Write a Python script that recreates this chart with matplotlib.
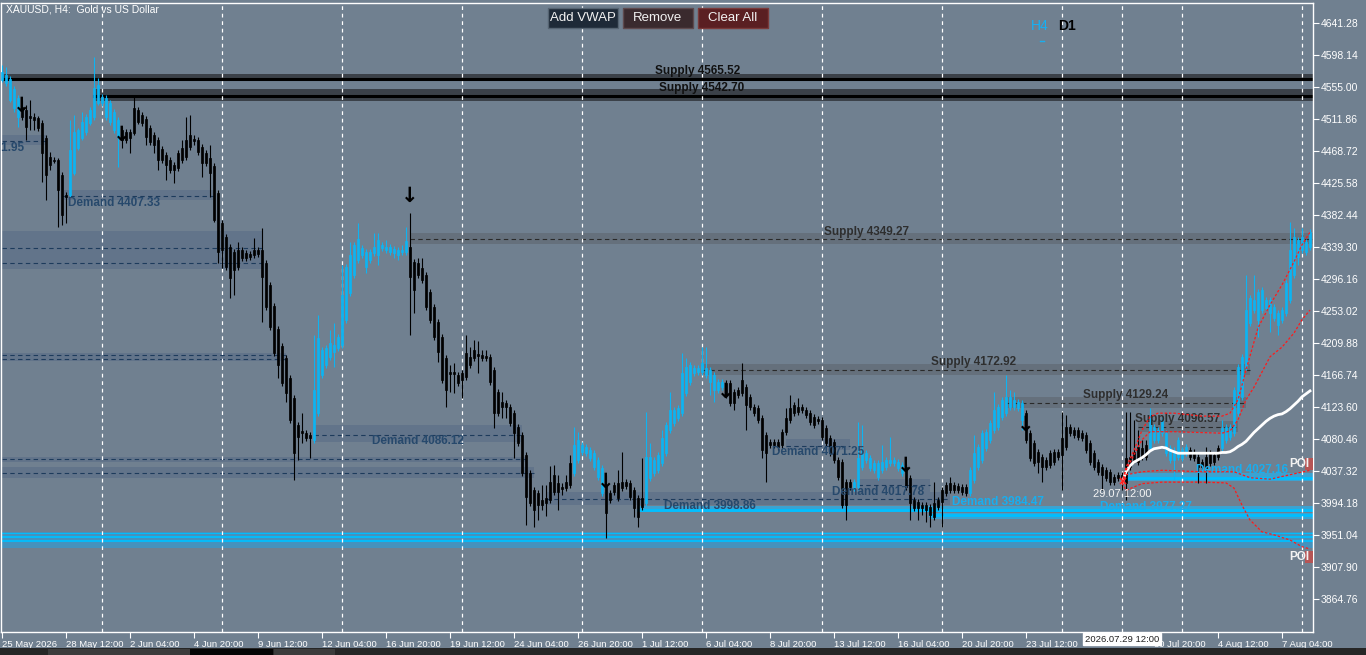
import matplotlib
matplotlib.use("Agg")
import matplotlib.pyplot as plt
from matplotlib.patches import Rectangle

plt.rcParams['font.family'] = ['Liberation Sans', 'DejaVu Sans']

# XAUUSD H4, 25 May 2026 20:00 -> 10 Aug 2026 04:00 (bar index 0..327)
opens = [
    4564, 4560, 4537, 4526, 4514, 4528, 4524, 4516, 4514, 4513,
    4506, 4486, 4460, 4456, 4456, 4436, 4409, 4409, 4439, 4472,
    4486, 4494, 4506, 4514, 4533, 4533, 4514, 4507, 4497, 4487,
    4497, 4494, 4494, 4526, 4524, 4517, 4511, 4499, 4490, 4483,
    4471, 4463, 4456, 4450, 4466, 4472, 4483, 4490, 4485, 4483,
    4474, 4466, 4459, 4448, 4412, 4371, 4352, 4339, 4332, 4335,
    4335, 4331, 4330, 4335, 4335, 4335, 4317, 4288, 4259, 4228,
    4205, 4189, 4162, 4135, 4099, 4091, 4088, 4086, 4079, 4115,
    4166, 4180, 4191, 4197, 4203, 4207, 4241, 4277, 4301, 4321,
    4328, 4312, 4321, 4331, 4328, 4338, 4335, 4332, 4331, 4328,
    4332, 4332, 4339, 4319, 4317, 4311, 4301, 4278, 4258, 4238,
    4218, 4189, 4170, 4170, 4166, 4169, 4196, 4191, 4200, 4195,
    4193, 4192, 4191, 4173, 4144, 4130, 4129, 4123, 4115, 4096,
    4086, 4059, 4034, 4011, 4007, 3998, 4001, 4022, 4032, 4021,
    4015, 4022, 4048, 4034, 4052, 4063, 4061, 4055, 4042, 4029,
    4007, 4018, 4007, 4018, 4021, 4022, 4022, 4021, 4011, 4001,
    4001, 3994, 4028, 4034, 4038, 4048, 4061, 4092, 4102, 4108,
    4115, 4142, 4157, 4169, 4170, 4170, 4166, 4157, 4146, 4146,
    4150, 4156, 4156, 4144, 4146, 4160, 4150, 4137, 4123, 4122,
    4108, 4086, 4076, 4076, 4076, 4090, 4108, 4122, 4126, 4123,
    4123, 4119, 4115, 4110, 4107, 4106, 4095, 4081, 4076, 4052,
    4049, 4022, 4022, 4014, 4015, 4042, 4052, 4041, 4038, 4029,
    4038, 4042, 4048, 4048, 4041, 4034, 4042, 4028, 3998, 3995,
    3991, 3991, 3988, 3994, 3998, 4011, 4018, 4021, 4018, 4017,
    4015, 4015, 4007, 4025, 4042, 4052, 4068, 4079, 4092, 4096,
    4110, 4115, 4123, 4123, 4122, 4106, 4115, 4088, 4075, 4063,
    4056, 4052, 4061, 4063, 4063, 4081, 4096, 4096, 4092, 4092,
    4088, 4086, 4075, 4061, 4049, 4042, 4038, 4036, 4029, 4032,
    4032, 4055, 4056, 4063, 4069, 4068, 4072, 4068, 4079, 4079,
    4088, 4061, 4052, 4052, 4056, 4055, 4061, 4065, 4063, 4056,
    4049, 4056, 4061, 4059, 4068, 4068, 4079, 4083, 4088, 4115,
    4137, 4177, 4236, 4254, 4241, 4254, 4257, 4250, 4243, 4234,
    4241, 4250, 4267, 4301, 4325, 4335, 4332, 4339,
]
highs = [
    4584, 4582, 4569, 4556, 4544, 4537, 4530, 4537, 4520, 4516,
    4510, 4490, 4467, 4460, 4459, 4440, 4413, 4510, 4517, 4499,
    4521, 4518, 4528, 4595, 4567, 4545, 4544, 4537, 4525, 4514,
    4501, 4498, 4498, 4544, 4528, 4521, 4516, 4503, 4494, 4487,
    4475, 4467, 4460, 4454, 4470, 4483, 4514, 4517, 4490, 4487,
    4478, 4470, 4476, 4452, 4416, 4375, 4356, 4343, 4336, 4346,
    4339, 4335, 4334, 4351, 4339, 4365, 4321, 4292, 4263, 4232,
    4210, 4193, 4166, 4139, 4103, 4115, 4092, 4090, 4220, 4247,
    4204, 4207, 4227, 4236, 4222, 4315, 4316, 4346, 4346, 4371,
    4342, 4336, 4336, 4358, 4358, 4346, 4348, 4343, 4340, 4339,
    4342, 4366, 4385, 4323, 4324, 4324, 4305, 4282, 4262, 4242,
    4222, 4193, 4180, 4183, 4170, 4173, 4220, 4204, 4214, 4212,
    4200, 4200, 4195, 4177, 4148, 4144, 4133, 4127, 4119, 4100,
    4090, 4063, 4038, 4015, 4011, 4018, 4018, 4044, 4045, 4032,
    4021, 4032, 4059, 4096, 4090, 4076, 4073, 4069, 4065, 4056,
    4045, 4032, 4011, 4022, 4038, 4063, 4026, 4025, 4015, 4005,
    4055, 4117, 4075, 4056, 4063, 4092, 4103, 4144, 4123, 4126,
    4196, 4189, 4184, 4180, 4180, 4204, 4204, 4177, 4170, 4161,
    4161, 4160, 4160, 4148, 4150, 4183, 4154, 4141, 4127, 4126,
    4112, 4090, 4080, 4080, 4080, 4094, 4122, 4139, 4130, 4135,
    4127, 4123, 4119, 4114, 4111, 4110, 4099, 4086, 4080, 4056,
    4053, 4026, 4026, 4026, 4103, 4099, 4065, 4059, 4052, 4052,
    4072, 4056, 4083, 4056, 4053, 4049, 4046, 4032, 4002, 3999,
    3995, 3995, 3993, 4022, 4002, 4015, 4022, 4029, 4022, 4021,
    4019, 4019, 4042, 4086, 4073, 4092, 4094, 4106, 4144, 4127,
    4137, 4166, 4146, 4144, 4134, 4133, 4119, 4092, 4079, 4067,
    4060, 4056, 4065, 4067, 4067, 4117, 4112, 4100, 4096, 4096,
    4092, 4090, 4079, 4065, 4053, 4046, 4042, 4040, 4033, 4036,
    4036, 4117, 4117, 4106, 4092, 4079, 4079, 4122, 4100, 4096,
    4110, 4092, 4072, 4069, 4083, 4069, 4073, 4069, 4067, 4060,
    4053, 4069, 4065, 4063, 4072, 4106, 4100, 4100, 4150, 4181,
    4195, 4301, 4274, 4301, 4282, 4285, 4272, 4272, 4262, 4254,
    4258, 4294, 4373, 4365, 4352, 4365, 4350, 4363,
]
lows = [
    4561, 4556, 4534, 4521, 4501, 4510, 4483, 4497, 4497, 4495,
    4427, 4402, 4443, 4452, 4366, 4369, 4371, 4406, 4436, 4470,
    4483, 4490, 4503, 4510, 4530, 4529, 4510, 4503, 4493, 4447,
    4472, 4479, 4466, 4490, 4505, 4502, 4476, 4476, 4466, 4443,
    4452, 4429, 4439, 4425, 4441, 4452, 4456, 4470, 4476, 4463,
    4433, 4448, 4406, 4373, 4317, 4311, 4308, 4270, 4274, 4308,
    4320, 4320, 4321, 4324, 4325, 4238, 4254, 4227, 4192, 4162,
    4152, 4130, 4102, 4025, 4052, 4075, 4077, 4055, 4075, 4111,
    4162, 4176, 4187, 4177, 4199, 4203, 4236, 4273, 4297, 4317,
    4324, 4304, 4317, 4327, 4315, 4334, 4331, 4328, 4324, 4321,
    4328, 4328, 4220, 4250, 4297, 4290, 4254, 4236, 4214, 4184,
    4156, 4123, 4144, 4142, 4152, 4135, 4160, 4176, 4185, 4169,
    4185, 4185, 4153, 4095, 4111, 4108, 4108, 4098, 4055, 4071,
    4030, 3964, 3990, 3961, 3971, 3984, 3976, 3994, 4005, 3984,
    4005, 4010, 4014, 4030, 4048, 4059, 4057, 4050, 4038, 4025,
    4003, 3947, 3994, 4005, 3997, 4010, 4013, 3998, 3975, 3961,
    3984, 3990, 4023, 4030, 4034, 4044, 4057, 4088, 4098, 4104,
    4111, 4138, 4153, 4165, 4166, 4166, 4162, 4139, 4130, 4142,
    4146, 4135, 4125, 4119, 4135, 4138, 4092, 4119, 4111, 4102,
    4055, 4022, 4068, 4068, 4065, 4068, 4086, 4102, 4111, 4112,
    4115, 4108, 4099, 4095, 4100, 4079, 4071, 4057, 4048, 4025,
    3987, 3971, 4011, 4010, 4011, 4038, 4048, 4037, 4034, 4025,
    4034, 4038, 4044, 4044, 4037, 4030, 4011, 3971, 3983, 3971,
    3978, 3968, 3961, 3971, 3984, 3961, 4003, 4007, 4007, 4007,
    4005, 4003, 4003, 4021, 4038, 4048, 4064, 4075, 4088, 4092,
    4106, 4111, 4119, 4119, 4118, 4092, 4075, 4050, 4044, 4034,
    4022, 4038, 4041, 4045, 4052, 4011, 4065, 4084, 4081, 4079,
    4077, 4061, 4045, 4038, 4032, 4011, 4023, 4018, 4018, 4023,
    4011, 3998, 4038, 4048, 4045, 4052, 4052, 4064, 4075, 4075,
    4084, 4057, 4048, 4025, 4052, 4050, 4057, 4052, 4050, 4021,
    4038, 4021, 4044, 4045, 4052, 4064, 4075, 4079, 4084, 4111,
    4133, 4173, 4232, 4250, 4218, 4250, 4253, 4224, 4239, 4220,
    4236, 4246, 4263, 4297, 4315, 4331, 4328, 4335,
]
closes = [
    4575, 4571, 4565, 4552, 4540, 4514, 4501, 4513, 4510, 4499,
    4466, 4436, 4450, 4455, 4416, 4382, 4406, 4470, 4494, 4497,
    4507, 4514, 4524, 4553, 4557, 4541, 4540, 4533, 4521, 4510,
    4483, 4483, 4486, 4493, 4507, 4506, 4487, 4480, 4476, 4456,
    4456, 4450, 4443, 4443, 4445, 4456, 4460, 4474, 4482, 4467,
    4452, 4452, 4439, 4375, 4332, 4335, 4312, 4297, 4308, 4312,
    4324, 4324, 4325, 4328, 4330, 4298, 4258, 4231, 4196, 4180,
    4156, 4142, 4106, 4061, 4083, 4088, 4081, 4081, 4146, 4216,
    4200, 4203, 4210, 4207, 4218, 4274, 4312, 4328, 4342, 4350,
    4338, 4332, 4332, 4339, 4348, 4342, 4339, 4339, 4336, 4335,
    4335, 4347, 4298, 4281, 4301, 4294, 4258, 4241, 4218, 4197,
    4160, 4146, 4168, 4168, 4156, 4160, 4164, 4180, 4189, 4192,
    4189, 4189, 4157, 4115, 4115, 4123, 4123, 4102, 4088, 4075,
    4034, 4002, 3994, 3984, 3991, 3991, 3994, 3998, 4009, 4009,
    4013, 4014, 4018, 4072, 4079, 4072, 4069, 4065, 4061, 4052,
    4041, 3980, 3998, 4009, 4001, 4014, 4017, 4002, 3987, 3975,
    3988, 4056, 4056, 4052, 4059, 4081, 4099, 4119, 4119, 4122,
    4169, 4177, 4180, 4176, 4176, 4183, 4176, 4173, 4166, 4157,
    4157, 4139, 4129, 4129, 4139, 4142, 4126, 4123, 4115, 4106,
    4065, 4061, 4072, 4072, 4069, 4072, 4090, 4106, 4115, 4117,
    4119, 4112, 4103, 4099, 4104, 4083, 4075, 4061, 4052, 4029,
    3991, 3991, 4015, 4022, 4055, 4065, 4061, 4055, 4048, 4048,
    4049, 4052, 4052, 4052, 4049, 4045, 4015, 3994, 3987, 3987,
    3987, 3984, 3978, 3975, 3988, 3995, 4007, 4011, 4011, 4011,
    4009, 4007, 4038, 4061, 4069, 4088, 4090, 4102, 4119, 4123,
    4133, 4137, 4137, 4133, 4130, 4129, 4079, 4055, 4048, 4049,
    4042, 4042, 4045, 4049, 4056, 4059, 4069, 4088, 4086, 4083,
    4081, 4065, 4049, 4042, 4036, 4032, 4028, 4022, 4022, 4028,
    4025, 4021, 4042, 4052, 4049, 4056, 4056, 4103, 4096, 4092,
    4106, 4088, 4068, 4065, 4079, 4065, 4069, 4056, 4055, 4042,
    4042, 4041, 4048, 4049, 4056, 4095, 4096, 4096, 4146, 4177,
    4191, 4254, 4270, 4267, 4278, 4281, 4267, 4267, 4258, 4250,
    4254, 4290, 4335, 4352, 4348, 4352, 4346, 4359,
]
# bars painted in the indicator's blue (trend) colour
blue_runs = [(0, 4), (17, 29), (78, 101), (143, 150), (161, 180),
             (213, 225), (242, 255), (287, 296), (305, 327)]

# fractal arrows
arrow_idx = [5, 30, 102, 151, 181, 226, 256]
arrow_px = [4529, 4490, 4408, 4022, 4144, 4044, 4099]

# supply zones
sup_level = [4565.52, 4542.70, 4349.27, 4172.92, 4129.24, 4096.57]
sup_hi = [4572, 4552, 4358, 4181, 4137, 4104]
sup_lo = [4563, 4536, 4343, 4166, 4122, 4090]
sup_from = [0, 23, 102, 175, 251, 284]
sup_to = [328, 328, 328, 312, 311, 309]
sup_lab_at = [174, 175, 216, 243, 281, 294]

# demand zones (dark)
dem_level = [4481.95, 4407.33, 4338, 4317, 4193, 4188, 4053, 4034,
             4086.12, 4071.25, 4017.78, 3998.86]
dem_hi = [4490, 4416, 4361, 4325, 4196, 4191, 4056, 4042, 4099, 4080, 4026, 4009]
dem_lo = [4476, 4402, 4326, 4309, 4190, 4185, 4049, 4028, 4076, 4065, 4002, 3991]
dem_from = [0, 15, 0, 0, 0, 0, 0, 0, 78, 196, 214, 136]
dem_to = [11, 53, 65, 65, 71, 71, 131, 133, 130, 212, 232, 237]
dem_named = [True, True, False, False, False, False, False, False, True, True, True, True]
dem_lab_at = [-6, 28, 0, 0, 0, 0, 0, 0, 104, 204, 219, 177]

# fresh demand zones (cyan)
cy_level = [3984.47, 3977.27, 4027.16]
cy_hi = [3990, 3980, 4034]
cy_lo = [3982, 3972, 4023]
cy_from = [159, 232, 281]
cy_lab_at = [249, 286, 310]
deep_lines = [3954, 3948, 3942]
deep_band = (3933, 3955)

poi_hi = [4055, 3929]
poi_lo = [4038, 3913]

# anchored VWAP from 29.07 12:00 (bar 280)
vwap = [4021, 4036, 4044, 4049, 4052, 4055, 4059, 4064, 4067, 4068,
        4069, 4068, 4065, 4063, 4061, 4061, 4061, 4061, 4061, 4061,
        4061, 4061, 4061, 4061, 4061, 4062, 4062, 4063, 4066, 4070,
        4073, 4077, 4083, 4089, 4094, 4099, 4104, 4108, 4111, 4113,
        4114, 4117, 4121, 4126, 4131, 4137, 4141, 4145]
up2_idx = [280, 281, 283, 285, 287, 289, 293, 300, 305, 307, 309, 311, 314, 317, 320, 323, 325, 327]
up2 = [4021, 4042, 4065, 4092, 4110, 4115, 4115, 4111, 4111, 4115, 4133, 4173, 4230, 4261, 4288, 4319, 4342, 4359]
up1_idx = [280, 281, 283, 285, 287, 293, 305, 307, 309, 311, 313, 317, 320, 323, 325, 327]
up1 = [4021, 4038, 4059, 4079, 4090, 4090, 4088, 4091, 4106, 4133, 4150, 4191, 4204, 4223, 4241, 4254]
lo1_idx = [280, 281, 285, 290, 300, 308, 312, 317, 322, 327]
lo1 = [4021, 4032, 4036, 4038, 4036, 4036, 4028, 4026, 4032, 4038]
lo2_idx = [280, 281, 285, 290, 300, 306, 308, 310, 312, 315, 318, 322, 325, 327]
lo2 = [4021, 4011, 4020, 4022, 4022, 4021, 4014, 3991, 3971, 3955, 3951, 3944, 3935, 3932]

# time axis (the 28 Jul 04:00 label sits under the crosshair date box)
tick_idx = list(range(0, 321, 16))
tick_lab = ["25 May 2026", "28 May 12:00", "2 Jun 04:00", "4 Jun 20:00", "9 Jun 12:00",
            "12 Jun 04:00", "16 Jun 20:00", "19 Jun 12:00", "24 Jun 04:00", "26 Jun 20:00",
            "1 Jul 12:00", "6 Jul 04:00", "8 Jul 20:00", "13 Jul 12:00", "16 Jul 04:00",
            "20 Jul 20:00", "23 Jul 12:00", "", "30 Jul 20:00", "4 Aug 12:00",
            "7 Aug 04:00"]
week_idx = list(range(25, 326, 30))
price_ticks = [4641.28, 4598.14, 4555.00, 4511.86, 4468.72, 4425.58, 4382.44, 4339.30,
               4296.16, 4253.02, 4209.88, 4166.74, 4123.60, 4080.46, 4037.32, 3994.18,
               3951.04, 3907.90, 3864.76]

BG = '#708090'
BLUE = '#0db4f2'
CYAN = '#00bfff'
W, H = 1366, 655


def fx(px):
    return px / W


def fy(py):
    return 1 - py / H


fig = plt.figure(figsize=(W / 100, H / 100), dpi=100, facecolor=BG)
ax = fig.add_axes([fx(1), fy(632), fx(1313) - fx(1), fy(3) - fy(632)])
ax.set_facecolor(BG)
ax.set_xlim(-0.25, 327.75)
ax.set_ylim(3820.0, 4667.9)

# --- zones ---
for k in range(len(sup_level)):
    strong = k < 2
    ax.add_patch(Rectangle((sup_from[k], sup_lo[k]), sup_to[k] - sup_from[k], sup_hi[k] - sup_lo[k],
                           facecolor='#3b4149' if strong else '#65707c', edgecolor='none', zorder=1))
    if strong:
        ax.plot([sup_from[k], sup_to[k]], [sup_level[k]] * 2, color='black', lw=2.2, zorder=1.5)
        col = '#111111'
    else:
        ax.plot([sup_from[k], sup_to[k]], [sup_level[k]] * 2, color='#2a2a2a', lw=0.8,
                ls=(0, (4, 3)), zorder=1.5)
        col = '#2e2e2e'
    ax.text(sup_lab_at[k], sup_level[k] + 10.5, f"Supply {sup_level[k]:.2f}", ha='center', va='center',
            fontsize=8.5, fontweight='bold', color=col, zorder=4)

for k in range(len(dem_level)):
    ax.add_patch(Rectangle((dem_from[k], dem_lo[k]), dem_to[k] - dem_from[k], dem_hi[k] - dem_lo[k],
                           facecolor='#62748a', edgecolor='none', zorder=1))
    ax.plot([dem_from[k], dem_to[k]], [dem_level[k]] * 2, color='#1d3b5c', lw=0.8,
            ls=(0, (4, 3)), zorder=1.5)
    if dem_named[k]:
        ax.text(dem_lab_at[k], dem_level[k] - 9, f"Demand {dem_level[k]:.2f}", ha='center', va='center',
                fontsize=8.5, fontweight='bold', color='#27496c', zorder=4, clip_on=True)

ax.add_patch(Rectangle((0, deep_band[0]), 328, deep_band[1] - deep_band[0],
                       facecolor='#4592bd', edgecolor='none', zorder=1))
for k, lv in enumerate(deep_lines):
    ax.plot([0, 328], [lv, lv], color=CYAN, lw=0.7 if k == 0 else 1.3, zorder=1.5)

for k in range(len(cy_level)):
    ax.add_patch(Rectangle((cy_from[k], cy_lo[k]), 328 - cy_from[k], cy_hi[k] - cy_lo[k],
                           facecolor='#3aa3d2', edgecolor='none', zorder=1))
    ax.plot([cy_from[k], 328], [cy_level[k]] * 2, color=CYAN, lw=2.0, zorder=1.5)
    ax.text(cy_lab_at[k], cy_level[k] + 11, f"Demand {cy_level[k]:.2f}", ha='center', va='center',
            fontsize=8.5, fontweight='bold', color='#18aeef', zorder=4)

for k in range(len(poi_hi)):
    ax.add_patch(Rectangle((325.8, poi_lo[k]), 2.2, poi_hi[k] - poi_lo[k],
                           facecolor='#b65555', edgecolor='none', zorder=4))
    ax.text(326.8, (poi_hi[k] + poi_lo[k]) / 2, "POI", ha='right', va='center',
            fontsize=8.5, fontweight='bold', color='#f2f2f2', zorder=6)

# --- weekly grid + crosshair ---
for gx in week_idx + [280]:
    ax.axvline(gx, color='white', lw=0.9, ls=(0, (3, 3)), zorder=2)

# --- candles ---
n = len(closes)
cols = ['black'] * n
for a, b in blue_runs:
    for i in range(a, b + 1):
        cols[i] = BLUE
idx = list(range(n))
ax.vlines(idx, lows, highs, colors=cols, lw=0.8, zorder=3)
bottoms = [min(o, c) for o, c in zip(opens, closes)]
heights = [abs(c - o) for o, c in zip(opens, closes)]
ax.bar(idx, heights, bottom=bottoms, width=0.72, color=cols, edgecolor=cols, lw=0.5, zorder=3)

for i, p in zip(arrow_idx, arrow_px):
    ax.text(i, p, "\u2193", ha='center', va='center', fontsize=15, fontweight='bold',
            color='black', family='DejaVu Sans', zorder=6)

# --- anchored VWAP and bands ---
ax.plot(range(280, 280 + len(vwap)), vwap, color='white', lw=2.0, zorder=5)
for bi, bv in [(up2_idx, up2), (up1_idx, up1), (lo1_idx, lo1), (lo2_idx, lo2)]:
    ax.plot(bi, bv, color='#ff1a1a', lw=0.9, ls=(0, (2, 1.5)), zorder=5)
ax.plot(280.3, 4023, marker='x', color='#ff2020', ms=4, mew=1.2, zorder=6)
ax.text(272.8, 4006, "29.07 12:00", ha='left', va='center', fontsize=8, color='#f4f4f4', zorder=6)

# --- axes look ---
for s in ax.spines.values():
    s.set_color('white')
    s.set_linewidth(1)
ax.yaxis.tick_right()
ax.set_yticks(price_ticks)
ax.set_yticklabels([f"{v:.2f}" for v in price_ticks])
ax.tick_params(axis='y', direction='out', length=4, width=0.8, color='white',
               labelcolor='white', labelsize=7.5, pad=1.5)
ax.set_xticks(tick_idx)
ax.set_xticklabels(tick_lab, ha='left')
ax.tick_params(axis='x', direction='out', length=4, width=0.8, color='white',
               labelcolor='white', labelsize=6.8, pad=1.5)
ax.text(280, -0.004, "2026.07.29 12:00", transform=ax.get_xaxis_transform(), ha='center', va='top',
        fontsize=6.8, color='#202020', clip_on=False, zorder=10,
        bbox=dict(boxstyle='square,pad=0.18', fc='white', ec='white'))

# --- chart furniture ---
fig.text(fx(6), fy(10), "XAUUSD, H4:  Gold vs US Dollar", ha='left', va='center',
         fontsize=7.5, color='white')


def button(x0, x1, y0, y1, label, face, edge):
    fig.add_artist(Rectangle((fx(x0), fy(y1)), fx(x1) - fx(x0), fy(y0) - fy(y1),
                             transform=fig.transFigure, facecolor=face, edgecolor=edge, lw=1))
    fig.text(fx((x0 + x1) / 2), fy((y0 + y1) / 2), label, ha='center', va='center',
             fontsize=9.5, color='#f2f2f2')


button(548, 618, 8, 28, "Add VWAP", '#1e2a38', '#566472')
button(623, 693, 8, 28, "Remove", '#3a2a2e', '#5e4a4e')
button(698, 768, 8, 28, "Clear All", '#5a1f22', '#7a3a3a')

fig.text(fx(1031), fy(26), "H4", ha='left', va='center', fontsize=10, color='#15b0f5')
fig.text(fx(1058), fy(26), "D1", ha='left', va='center', fontsize=10, fontweight='bold', color='black')
fig.add_artist(plt.Line2D([fx(1040), fx(1044)], [fy(41), fy(41)], transform=fig.transFigure,
                          color='#19aeef', lw=1))

# terminal tab strip at the bottom
fig.add_artist(Rectangle((0, 0), 1, fy(648), transform=fig.transFigure, facecolor='#262626', edgecolor='none'))
fig.add_artist(Rectangle((fx(48), 0), fx(190) - fx(48), fy(649), transform=fig.transFigure,
                         facecolor='#3c3c3c', edgecolor='none'))
fig.add_artist(Rectangle((fx(190), 0), fx(273) - fx(190), fy(649), transform=fig.transFigure,
                         facecolor='#050505', edgecolor='none'))
fig.add_artist(Rectangle((fx(274), 0), fx(335) - fx(274), fy(649), transform=fig.transFigure,
                         facecolor='#3c3c3c', edgecolor='none'))

fig.savefig("out.png", dpi=100, facecolor=BG)
